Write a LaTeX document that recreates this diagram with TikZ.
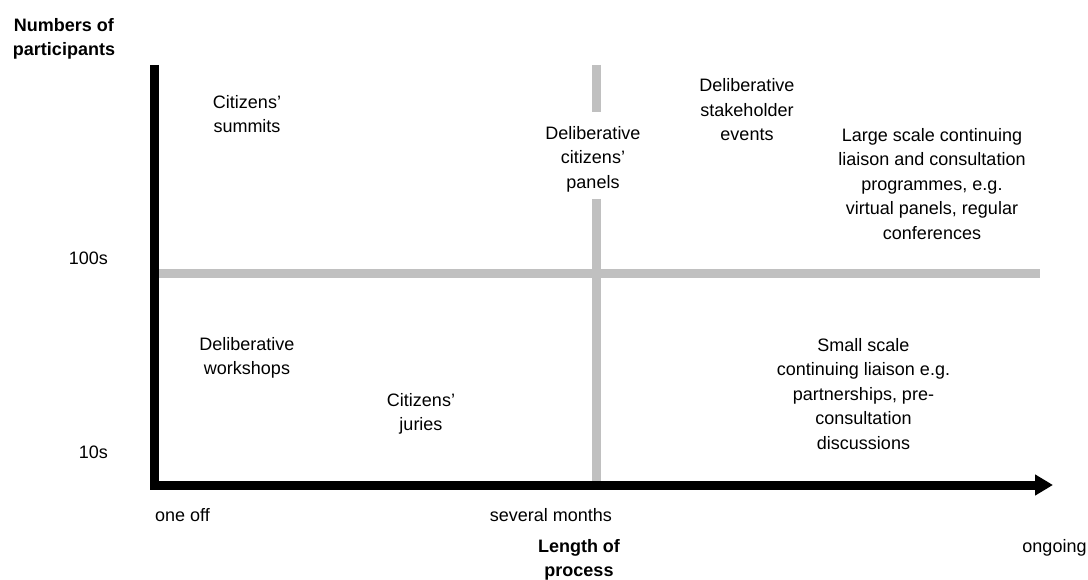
\documentclass[tikz,border=0pt]{standalone}
\usepackage{fontspec}
\setmainfont{Liberation Sans}
\usetikzlibrary{arrows.meta}
\definecolor{gridgray}{RGB}{192,192,192}
\begin{document}
\begin{tikzpicture}[x=1pt,y=-1pt,
  lbl/.style={align=center,inner sep=0pt,font=\fontsize{18}{24.5}\selectfont},
  bold/.style={lbl,font=\fontsize{18}{24.5}\selectfont\bfseries},
  axis/.style={line width=9pt,black,line join=miter},
  grid/.style={line width=9pt,gridgray}]
\useasboundingbox (0,0) rectangle (1088,580);
% coordinates
\coordinate (ytop) at (154,65);
\coordinate (xend) at (1053,485);
\coordinate (vtop) at (596,65);
\coordinate (vgap1) at (596,112);
\coordinate (vgap2) at (596,199);
\coordinate (vbot) at (596,481);
\coordinate (hleft) at (158,273.5);
\coordinate (hright) at (1040,273.5);
% grid lines
\draw[grid] (hleft) -- (hright);
\draw[grid] (vtop) -- (vgap1);
\draw[grid] (vgap2) -- (vbot);
% axes
\draw[axis,-{Triangle[length=18pt,width=20pt]}] (ytop) |- (xend);
% labels
\node[bold] (ylab) at (64,39) {Numbers of\\participants};
\node[bold] (xlab) at (579,560) {Length of\\process};
\node[lbl,anchor=east] (t100) at (108,258) {100s};
\node[lbl,anchor=east] (t10) at (108,452) {10s};
\node[lbl] (oneoff) at (182.5,515) {one off};
\node[lbl] (several) at (551,515) {several months};
\node[lbl] (ongoing) at (1054.5,548) {ongoing};
\node[lbl] (summits) at (247,114) {Citizens'\\summits};
\node[lbl] (panels) at (593,159) {Deliberative\\citizens'\\panels};
\node[lbl] (stake) at (747,110) {Deliberative\\stakeholder\\events};
\node[lbl] (large) at (932,184) {Large scale continuing\\liaison and consultation\\programmes, e.g.\\virtual panels, regular\\conferences};
\node[lbl] (workshops) at (247,358) {Deliberative\\workshops};
\node[lbl] (juries) at (421,414) {Citizens'\\juries};
\node[lbl] (small) at (863.5,394) {Small scale\\continuing liaison e.g.\\partnerships, pre-\\consultation\\discussions};
\end{tikzpicture}
\end{document}
